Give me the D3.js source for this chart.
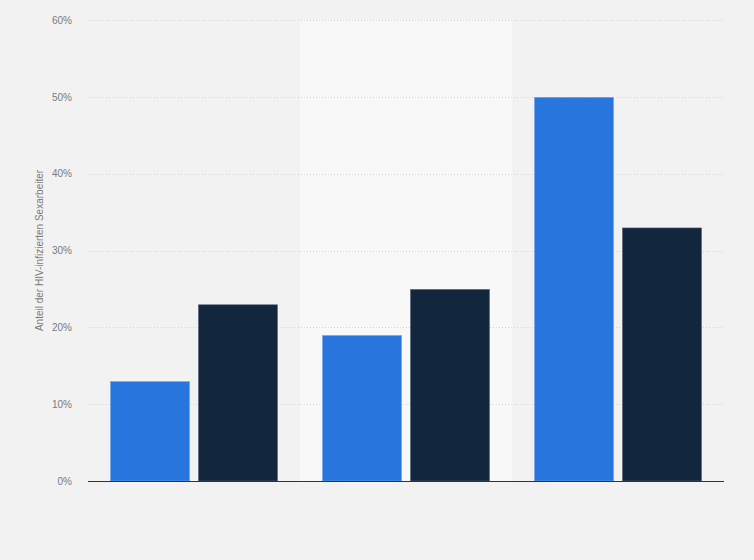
<!DOCTYPE html>
<html>
<head>
<meta charset="utf-8">
<script src="https://cdn.jsdelivr.net/npm/d3@7"></script>
<style>
  html, body { margin: 0; padding: 0; background: #f2f2f2; }
  svg { display: block; font-family: "Liberation Sans", Arial, sans-serif; }
</style>
</head>
<body>
<svg id="chart" width="754" height="560"></svg>
<script>
// three groups, two series each; the reference shows no category labels
const categories = ["A", "B", "C"];
const seriesKeys = ["s1", "s2"];
const s1Values = [13, 19, 50];
const s2Values = [23, 25, 33];
const yTicks = [0, 10, 20, 30, 40, 50, 60];
const yTitle = "Anteil der HIV-infizierten Sexarbeiter";

const W = 754, H = 560;
const M = { top: 20, right: 30, bottom: 79, left: 88 };
const BLUE = "#2876dd", NAVY = "#12263d";

const svg = d3.select("#chart");
const iw = W - M.left - M.right, ih = H - M.top - M.bottom;
const g = svg.append("g").attr("transform", `translate(${M.left},${M.top})`);

const x0 = d3.scaleBand().domain(categories).range([0, iw]);
const x1 = d3.scaleBand().domain(seriesKeys)
  .range([22, x0.bandwidth() - 22]).paddingInner(0.09);
const y = d3.scaleLinear().domain([0, 60]).range([ih, 0]);

// lighter band behind the middle group
g.append("rect")
  .attr("x", x0(categories[1])).attr("y", 0)
  .attr("width", x0.bandwidth()).attr("height", ih)
  .attr("fill", "#f8f8f8");

// dotted gridlines
g.append("g").selectAll("line").data(yTicks.filter(t => t > 0)).join("line")
  .attr("x1", 0).attr("x2", iw)
  .attr("y1", d => Math.round(y(d)) + 0.5).attr("y2", d => Math.round(y(d)) + 0.5)
  .attr("stroke", "#d4d4d4").attr("stroke-width", 1)
  .attr("stroke-dasharray", "1,2");

// y tick labels via axis
const yAxis = g.append("g")
  .call(d3.axisLeft(y).tickValues(yTicks).tickFormat(d => d + "%").tickSize(0).tickPadding(16));
yAxis.select(".domain").remove();
yAxis.selectAll("text").attr("fill", "#7a7a7a").style("font-size", "10px");

// bars
const rows = categories.map((c, i) => ({ cat: c, s1: s1Values[i], s2: s2Values[i] }));
const grp = g.append("g").selectAll("g").data(rows).join("g")
  .attr("transform", d => `translate(${x0(d.cat)},0)`);
grp.selectAll("rect").data(d => seriesKeys.map(k => ({ key: k, value: d[k] }))).join("rect")
  .attr("x", d => x1(d.key) + 0.5)
  .attr("y", d => y(d.value) + 0.5)
  .attr("width", x1.bandwidth() - 1)
  .attr("height", d => ih - y(d.value) - 0.5)
  .attr("fill", d => d.key === "s1" ? BLUE : NAVY)
  .attr("stroke", d => d.key === "s1" ? "#6fa3ea" : "#56667a")
  .attr("stroke-width", 0.6);

// baseline
g.append("line")
  .attr("x1", 0).attr("x2", iw)
  .attr("y1", ih + 0.5).attr("y2", ih + 0.5)
  .attr("stroke", "#333").attr("stroke-width", 1.2);

// y title
svg.append("text")
  .attr("transform", `translate(43,${M.top + ih / 2}) rotate(-90)`)
  .attr("text-anchor", "middle")
  .attr("fill", "#7a7a7a").style("font-size", "10px")
  .text(yTitle);
</script>
</body>
</html>
